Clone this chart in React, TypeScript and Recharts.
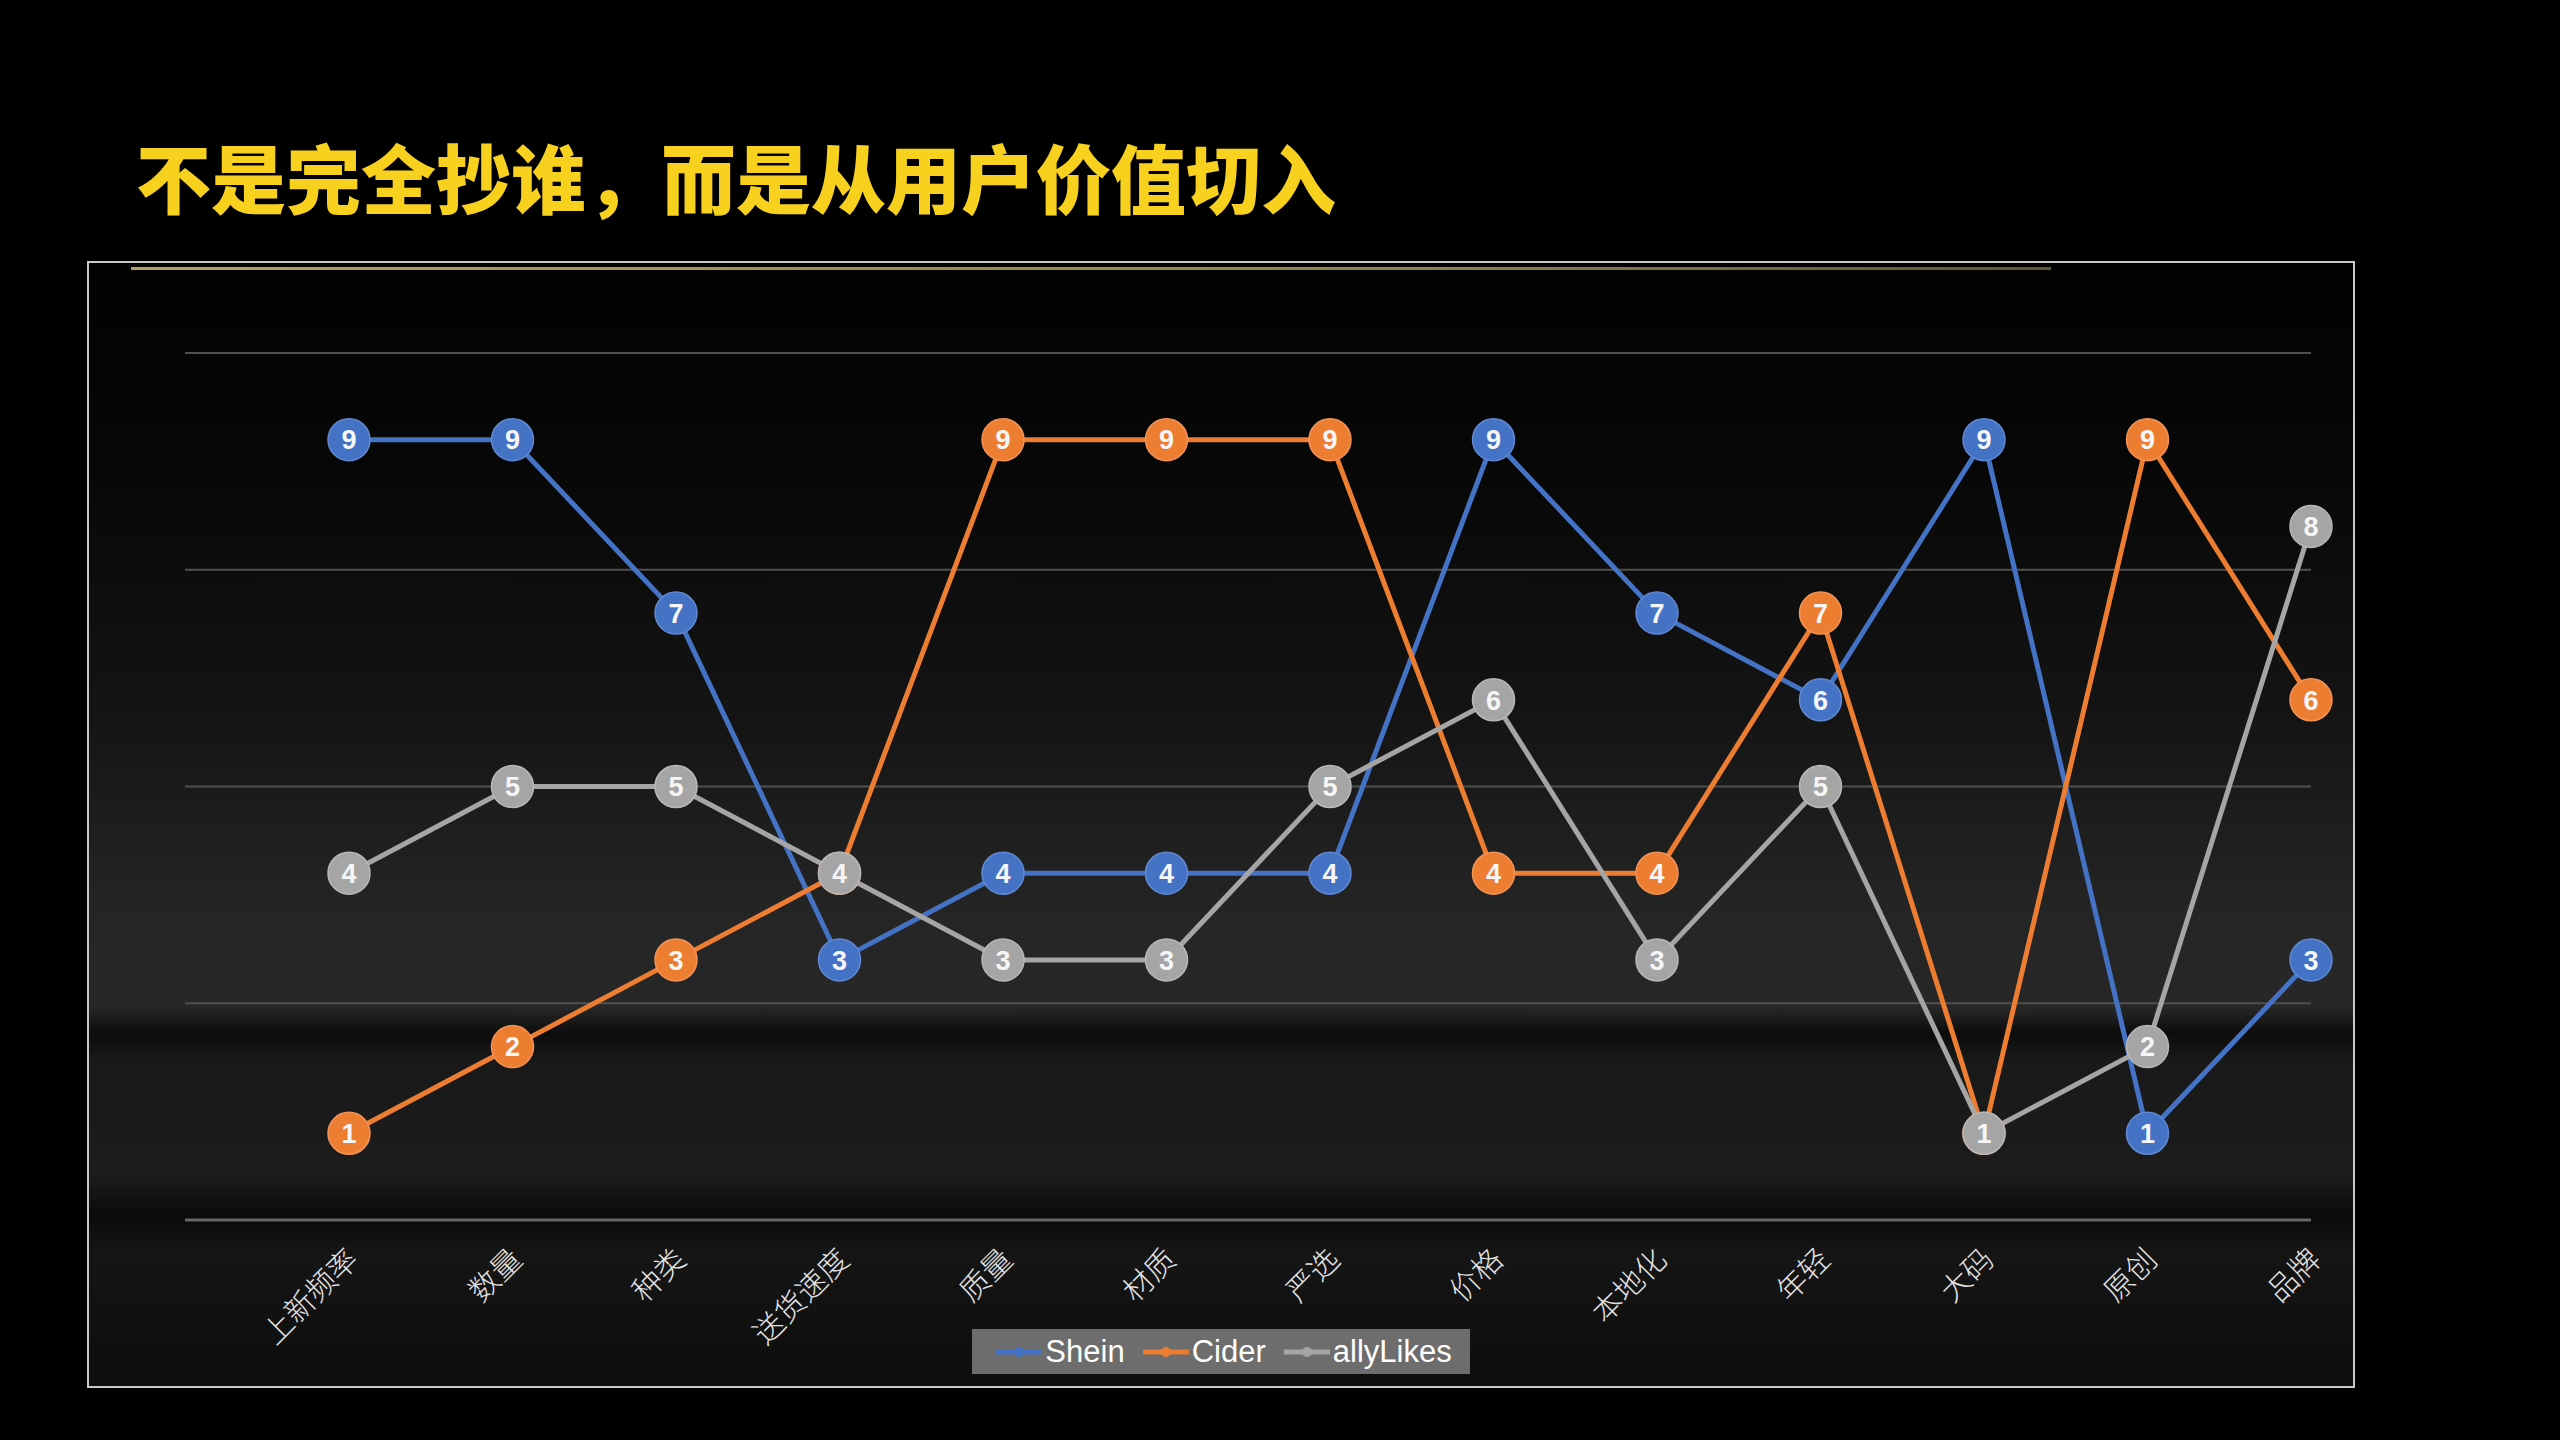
import React from "react";
import {
  LineChart, Line, XAxis, YAxis, CartesianGrid, Legend,
} from "recharts";

const categories = ["上新频率", "数量", "种类", "送货速度", "质量", "材质", "严选", "价格", "本地化", "年轻", "大码", "原创", "品牌"];
const shein = [9, 9, 7, 3, 4, 4, 4, 9, 7, 6, 9, 1, 3];
const cider = [1, 2, 3, 4, 9, 9, 9, 4, 4, 7, 1, 9, 6];
const allyLikes = [4, 5, 5, 4, 3, 3, 5, 6, 3, 5, 1, 2, 8];
const seriesOrder = ["Shein", "Cider", "allyLikes"];
const yTicks = [0, 2.5, 5, 7.5, 10];

const BLUE = "#4472C4";
const ORANGE = "#ED7D31";
const GRAY = "#A5A5A5";

const data = categories.map((name, i) => ({
  name,
  Shein: shein[i],
  Cider: cider[i],
  allyLikes: allyLikes[i],
}));

const CHART_W = 2264;
const CHART_H = 1123;

// numbered circle on each point
function makeDot(color: string, rim: string) {
  // eslint-disable-next-line @typescript-eslint/no-explicit-any
  return (props: any) => {
    const { cx, cy, value, index } = props;
    if (cx == null || cy == null) return <g key={index} />;
    return (
      <g key={`dot-${index}`}>
        <circle cx={cx} cy={cy} r={21} fill={color} stroke={rim} strokeWidth={1.5} />
        <text
          x={cx}
          y={cy}
          dy="0.36em"
          textAnchor="middle"
          fill="#f6f6f6"
          fontSize={27}
          fontWeight={700}
          fontFamily="'Liberation Sans', Arial, sans-serif"
        >
          {value}
        </text>
      </g>
    );
  };
}

// eslint-disable-next-line @typescript-eslint/no-explicit-any
function AngledTick({ x, y, payload }: any) {
  return (
    <g transform={`translate(${x + 4},${y + 34})`}>
      <text
        textAnchor="end"
        transform="rotate(-45)"
        dy="0.35em"
        fill="#e4e4e4"
        fontSize={30}
        fontFamily="'Noto Sans CJK SC', sans-serif"
        fontWeight={300}
      >
        {payload.value}
      </text>
    </g>
  );
}

// eslint-disable-next-line @typescript-eslint/no-explicit-any
function LegendBox({ payload }: any) {
  const items = [...(payload ?? [])].sort(
    (a: any, b: any) => seriesOrder.indexOf(a.value) - seriesOrder.indexOf(b.value)
  );
  return (
    <div style={{ display: "flex", justifyContent: "center" }}>
      <div
        style={{
          display: "flex",
          alignItems: "center",
          height: 45,
          background: "#6d6d6d",
          padding: "0 18px 0 24px",
          gap: 18,
        }}
      >
        {items.map((entry: any) => (
          <div key={entry.value} style={{ display: "flex", alignItems: "center" }}>
            <svg width={46} height={14}>
              <line x1={0} x2={46} y1={7} y2={7} stroke={entry.color} strokeWidth={5} />
              <circle cx={23} cy={7} r={5} fill={entry.color} />
            </svg>
            <span
              style={{
                marginLeft: 3,
                color: "#ffffff",
                fontSize: 31,
                lineHeight: "45px",
                fontFamily: "'Liberation Sans', Arial, sans-serif",
              }}
            >
              {entry.value}
            </span>
          </div>
        ))}
      </div>
    </div>
  );
}

export default function App() {
  return (
    <div
      style={{
        position: "absolute",
        left: 0,
        top: 0,
        width: 2560,
        height: 1440,
        background: "#000",
        overflow: "hidden",
      }}
    >
      <div
        style={{
          position: "absolute",
          left: 136,
          top: 138,
          fontSize: 75,
          lineHeight: "75px",
          fontWeight: 900,
          color: "#F7D11E",
          fontFamily: "'Noto Sans CJK SC', sans-serif",
          whiteSpace: "nowrap",
        }}
      >
        不是完全抄谁，而是从用户价值切入
      </div>

      <div
        style={{
          position: "absolute",
          left: 87,
          top: 261,
          width: CHART_W,
          height: CHART_H,
          border: "2px solid #c9c9c9",
          background:
            "linear-gradient(to bottom, #020202 0%, #070707 18%, #141414 40%, #252525 58%, #272727 66.3%, #0c0c0c 68.6%, #191919 71%, #1c1c1c 81%, #0a0a0a 85%, #151515 88%, #0d0d0d 100%)",
        }}
      >
        <div
          style={{
            position: "absolute",
            left: 42,
            top: 4,
            width: 1920,
            height: 3,
            background: "linear-gradient(to right, #b3a263, #8c7f4c 70%, #5c5535)",
          }}
        />
        <LineChart
          width={CHART_W}
          height={CHART_H}
          data={data}
          margin={{ top: 90, right: 42, left: 96, bottom: 12 }}
        >
          <CartesianGrid vertical={false} stroke="#505050" strokeWidth={2} />
          <XAxis
            dataKey="name"
            height={109}
            padding={{ left: 164, right: 0 }}
            axisLine={{ stroke: "#666666", strokeWidth: 3 }}
            tickLine={false}
            tickSize={0}
            tickMargin={0}
            interval={0}
            tick={<AngledTick />}
          />
          <YAxis hide domain={[0, 10]} ticks={yTicks} />
          <Legend
            verticalAlign="bottom"
            content={<LegendBox />}
            wrapperStyle={{ left: 0, width: CHART_W, bottom: 12 }}
          />
          <Line
            dataKey="Shein"
            stroke={BLUE}
            strokeWidth={5}
            dot={makeDot(BLUE, "#6189d3")}
            activeDot={false}
            isAnimationActive={false}
          />
          <Line
            dataKey="Cider"
            stroke={ORANGE}
            strokeWidth={5}
            dot={makeDot(ORANGE, "#f29458")}
            activeDot={false}
            isAnimationActive={false}
          />
          <Line
            dataKey="allyLikes"
            stroke={GRAY}
            strokeWidth={5}
            dot={makeDot(GRAY, "#b8b8b8")}
            activeDot={false}
            isAnimationActive={false}
          />
        </LineChart>
      </div>
    </div>
  );
}
